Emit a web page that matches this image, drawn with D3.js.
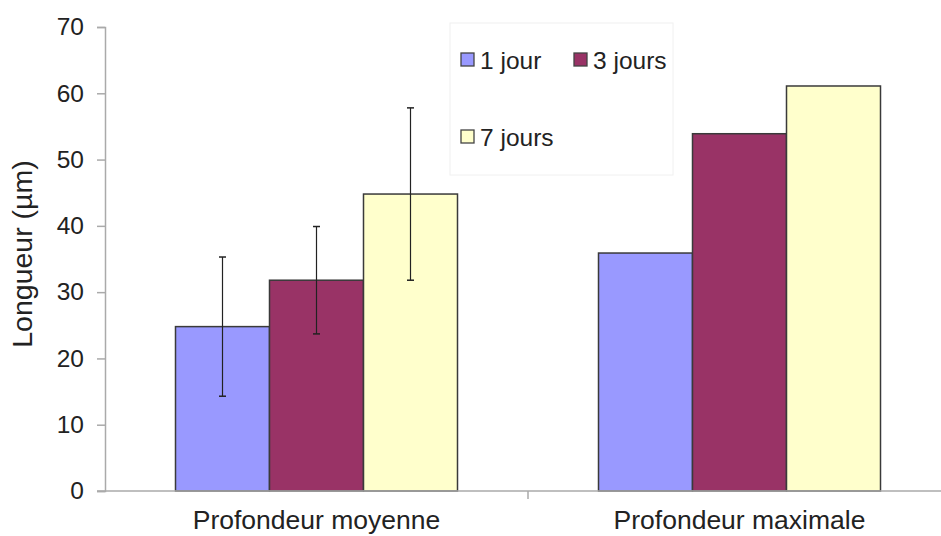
<!DOCTYPE html>
<html>
<head>
<meta charset="utf-8">
<script src="https://cdn.jsdelivr.net/npm/d3@7"></script>
<style>
  html, body { margin: 0; padding: 0; background: #fff; }
  svg { display: block; font-family: "Liberation Sans", Arial, sans-serif; }
</style>
</head>
<body>
<svg id="chart" width="941" height="536"></svg>
<script>
const categories = ["Profondeur moyenne", "Profondeur maximale"];
const series = ["1 jour", "3 jours", "7 jours"];
const values1 = [24.8, 35.9];   // 1 jour
const values3 = [31.8, 53.9];   // 3 jours
const values7 = [44.8, 61.1];   // 7 jours
const errors1 = [10.5, null];
const errors3 = [8.1, null];
const errors7 = [13.0, null];
const yTicks = [0, 10, 20, 30, 40, 50, 60, 70];
const colors = ["#9999FF", "#993366", "#FFFFCC"];
const yTitle = "Longueur (µm)";

const valuesBySeries = [values1, values3, values7];
const errorsBySeries = [errors1, errors3, errors7];

const svg = d3.select("#chart");
const mLeft = 105, mRight = 951, mTop = 27, mBottom = 491;

const y = d3.scaleLinear().domain([0, 70]).range([mBottom, mTop]);
const x0 = d3.scaleBand().domain(categories).range([mLeft, mRight]).padding(0);
const x1 = d3.scaleBand().domain(series).range([0, x0.bandwidth()]).paddingInner(0).paddingOuter(0.75);
const color = d3.scaleOrdinal().domain(series).range(colors);

const data = [];
categories.forEach((c, ci) => {
  series.forEach((s, si) => {
    data.push({ cat: c, ser: s, v: valuesBySeries[si][ci], e: errorsBySeries[si][ci] });
  });
});

// Legend box
svg.append("rect")
  .attr("x", 450).attr("y", 23).attr("width", 223).attr("height", 152)
  .attr("fill", "#fff").attr("stroke", "#f0f0f0").attr("stroke-width", 1);

// Bars
svg.append("g").selectAll("rect").data(data).join("rect")
  .attr("x", d => x0(d.cat) + x1(d.ser))
  .attr("y", d => y(d.v))
  .attr("width", x1.bandwidth())
  .attr("height", d => y(0) - y(d.v))
  .attr("fill", d => color(d.ser))
  .attr("stroke", "#3a3a3a")
  .attr("stroke-width", 1.5);

// Error bars
const eb = svg.append("g").selectAll("g").data(data.filter(d => d.e != null)).join("g");
eb.append("line")
  .attr("x1", d => x0(d.cat) + x1(d.ser) + x1.bandwidth() / 2)
  .attr("x2", d => x0(d.cat) + x1(d.ser) + x1.bandwidth() / 2)
  .attr("y1", d => y(d.v + d.e)).attr("y2", d => y(d.v - d.e))
  .attr("stroke", "#222").attr("stroke-width", 1.2);
eb.selectAll("line.cap").data(d => [[d, d.v + d.e], [d, d.v - d.e]]).join("line")
  .attr("class", "cap")
  .attr("x1", ([d]) => x0(d.cat) + x1(d.ser) + x1.bandwidth() / 2 - 3.5)
  .attr("x2", ([d]) => x0(d.cat) + x1(d.ser) + x1.bandwidth() / 2 + 3.5)
  .attr("y1", ([, v]) => y(v)).attr("y2", ([, v]) => y(v))
  .attr("stroke", "#222").attr("stroke-width", 1.5);

// Y axis
const yAxis = svg.append("g").attr("transform", `translate(${mLeft},0)`)
  .call(d3.axisLeft(y).tickValues(yTicks).tickSize(8).tickPadding(13));
yAxis.select(".domain").attr("stroke", "#aaa").attr("stroke-width", 1.5);
yAxis.selectAll(".tick line").attr("stroke", "#aaa").attr("stroke-width", 1.5);
yAxis.selectAll(".tick text").attr("fill", "#222").style("font-size", "24.5px")
  .attr("font-family", "Liberation Sans, Arial, sans-serif");

// X axis
const xAxisG = svg.append("g").attr("transform", `translate(0,${mBottom})`);
xAxisG.append("line").attr("x1", mLeft - 8).attr("x2", mRight).attr("y1", 0).attr("y2", 0)
  .attr("stroke", "#aaa").attr("stroke-width", 1.5);
xAxisG.selectAll("line.sep").data(categories.slice(1)).join("line")
  .attr("class", "sep")
  .attr("x1", d => x0(d)).attr("x2", d => x0(d)).attr("y1", 0).attr("y2", 8)
  .attr("stroke", "#aaa").attr("stroke-width", 1.5);
xAxisG.selectAll("text").data(categories).join("text")
  .attr("x", d => x0(d) + x0.bandwidth() / 2)
  .attr("y", 38)
  .attr("text-anchor", "middle")
  .attr("fill", "#222")
  .style("font-size", "26.5px")
  .text(d => d);

// Y title
svg.append("text")
  .attr("transform", `translate(32,254) rotate(-90)`)
  .attr("text-anchor", "middle")
  .attr("fill", "#222")
  .style("font-size", "28.5px")
  .text(yTitle);

// Legend entries
const legendPos = [[461, 53], [574, 53], [461, 130]];
const lg = svg.append("g").selectAll("g").data(series).join("g")
  .attr("transform", (d, i) => `translate(${legendPos[i][0]},${legendPos[i][1]})`);
lg.append("rect").attr("width", 13).attr("height", 13)
  .attr("fill", d => color(d)).attr("stroke", "#444").attr("stroke-width", 1.3);
lg.append("text").attr("x", 19).attr("y", 16)
  .attr("fill", "#222").style("font-size", "24.5px").text(d => d);
</script>
</body>
</html>
